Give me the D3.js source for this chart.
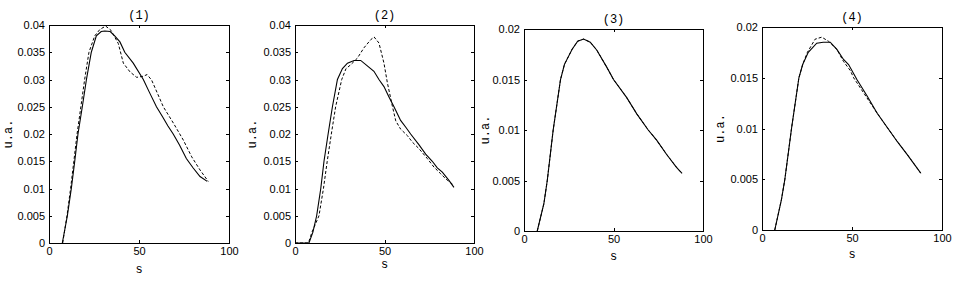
<!DOCTYPE html>
<html>
<head>
<meta charset="utf-8">
<script src="https://cdn.jsdelivr.net/npm/d3@7"></script>
<style>
  html, body { margin: 0; padding: 0; background: #fff; }
  svg text { fill: #000; }
  .tick text { font-family: "Liberation Sans", Arial, sans-serif; font-size: 11px; }
  .lbl { font-family: "Liberation Mono", "DejaVu Sans Mono", monospace; font-size: 12px; }
</style>
</head>
<body>
<svg id="chart" width="959" height="283"></svg>
<script>
// ---- données ----
const titles = ["(1)", "(2)", "(3)", "(4)"];
const xLabel = "s";
const yLabel = "u.a.";
const xTicks = [0, 50, 100];
const yTicksBig = [0, 0.005, 0.01, 0.015, 0.02, 0.025, 0.03, 0.035, 0.04];
const yTicksSmall = [0, 0.005, 0.01, 0.015, 0.02];

// panneau (1)
const p1SolidS = [7.4, 10.2, 12.4, 14.3, 16.1, 18.5, 20.8, 23.5, 26.3, 29, 31, 34, 36.5, 39.4, 42.1, 46.8, 52.4, 56, 59.7, 63, 66, 69, 72.5, 76.3, 80, 83.9, 87.9];
const p1SolidV = [0, .005, .01, .015, .02, .025, .03, .035, .038, .0388, .0389, .0388, .038, .0369, .035, .033, .03, .0275, .025, .0232, .0215, .02, .018, .0155, .0138, .0122, .0113];
const p1DashS = [7.6, 10, 12, 13.8, 15.6, 17.7, 19.8, 22.2, 25.4, 28.3, 31.5, 34.5, 36.5, 38.5, 41.3, 45, 48.7, 52.4, 54.5, 57, 59.4, 63.5, 69.1, 74.6, 79.3, 83.9, 88.5];
const p1DashV = [0, .005, .01, .015, .02, .025, .03, .035, .038, .0392, .0398, .039, .0378, .0366, .033, .0314, .0304, .0306, .0309, .0299, .0281, .025, .022, .0189, .0158, .0134, .0113];

// panneau (2)
const p2SolidS = [0, 7.8, 10, 12.1, 14.4, 16.2, 18.5, 20.9, 23.7, 26.5, 29.3, 33, 36.7, 40.4, 44.1, 46.9, 49.7, 52.5, 55.3, 59, 62, 64.6, 69.3, 73, 76.7, 79.5, 82.3, 86, 88.8];
const p2SolidV = [0, 0, .002, .005, .01, .015, .02, .025, .03, .032, .033, .0335, .0335, .0325, .0315, .03, .0287, .0268, .025, .0225, .0212, .02, .018, .0163, .015, .0138, .013, .0115, .0102];
const p2DashS = [0, 7.5, 9.5, 13.4, 15.9, 18, 20.3, 22.7, 26.1, 28.5, 31.1, 34.8, 38.5, 42.3, 44.2, 46.9, 49.7, 51.6, 54.4, 56.3, 59, 62.8, 65.6, 69.3, 73.9, 77.7, 81.4, 85.1, 88.8];
const p2DashV = [0, 0, .002, .005, .01, .015, .02, .025, .03, .032, .0327, .0339, .0358, .0373, .0378, .0367, .033, .0294, .0251, .0224, .0209, .0197, .0185, .0173, .0155, .0139, .0127, .0115, .0106];

// panneau (3) : les deux courbes se confondent
const p3SolidS = [7.4, 11.1, 13, 16.3, 20.4, 22.6, 26.9, 30, 33.3, 37, 40.7, 46.3, 50, 57.4, 63, 69.4, 74.1, 79.6, 85.2, 88.3];
const p3SolidV = [0, .0027, .005, .01, .015, .0165, .018, .0188, .019, .0187, .0179, .0162, .015, .0132, .0116, .01, .009, .0076, .0063, .0057];
const p3DashS = p3SolidS;
const p3DashV = p3SolidV;

// panneau (4)
const p4SolidS = [7.1, 10.8, 12.7, 16.4, 20.5, 22.6, 25.7, 30.4, 34, 37.9, 41.6, 45.3, 48.1, 52.8, 58.4, 64, 69.6, 75.2, 80.8, 88.2];
const p4SolidV = [0, .003, .005, .01, .015, .0163, .0175, .0184, .0185, .0185, .0178, .0168, .0163, .0148, .0132, .0115, .0101, .0087, .0074, .0056];
const p4DashS = [7.1, 10.8, 12.7, 16.4, 20.5, 22.6, 25.2, 29.5, 33.2, 36.9, 41.6, 45.3, 49.1, 50.9, 56.5, 64, 69.6, 75.2, 80.8, 88.2];
const p4DashV = [0, .003, .005, .01, .015, .0163, .0175, .0188, .019, .0186, .0178, .0166, .0157, .015, .0135, .0115, .0101, .0087, .0074, .0056];

const solids = [[p1SolidS, p1SolidV], [p2SolidS, p2SolidV], [p3SolidS, p3SolidV], [p4SolidS, p4SolidV]];
const dashes = [[p1DashS, p1DashV], [p2DashS, p2DashV], [p3DashS, p3DashV], [p4DashS, p4DashV]];
const yMax = [0.04, 0.04, 0.02, 0.02];
const yTicksAll = [yTicksBig, yTicksBig, yTicksSmall, yTicksSmall];

// ---- mise en page (boîtes des axes, en px) ----
const boxes = [
  { l: 49, r: 229, t: 25, b: 243, sY: 273, uaX: 8 },
  { l: 295, r: 474, t: 25, b: 243, sY: 268, uaX: 252 },
  { l: 524, r: 703, t: 29, b: 231, sY: 260, uaX: 485 },
  { l: 762, r: 942, t: 27, b: 230, sY: 258, uaX: 720 }
];

const svg = d3.select("#chart");
const tickLen = 3;

boxes.forEach((bx, i) => {
  const x = d3.scaleLinear().domain([0, 100]).range([bx.l, bx.r]);
  const y = d3.scaleLinear().domain([0, yMax[i]]).range([bx.b, bx.t]);
  const g = svg.append("g");

  // axes avec graduations intérieures (style MATLAB)
  g.append("g").attr("transform", `translate(0,${bx.b})`)
    .call(d3.axisBottom(x).tickValues(xTicks).tickSizeInner(-tickLen).tickSizeOuter(0).tickPadding(4).tickFormat(d3.format("d")));
  g.append("g").attr("transform", `translate(0,${bx.t})`)
    .call(d3.axisTop(x).tickValues(xTicks).tickSizeInner(-tickLen).tickSizeOuter(0).tickFormat(""));
  g.append("g").attr("transform", `translate(${bx.l},0)`)
    .call(d3.axisLeft(y).tickValues(yTicksAll[i]).tickSizeInner(-tickLen).tickSizeOuter(0).tickPadding(4).tickFormat(d => d === 0 ? "0" : String(+d.toFixed(3))));
  g.append("g").attr("transform", `translate(${bx.r},0)`)
    .call(d3.axisRight(y).tickValues(yTicksAll[i]).tickSizeInner(-tickLen).tickSizeOuter(0).tickFormat(""));

  g.selectAll(".domain").attr("stroke", "#000").attr("stroke-width", 1.2).attr("shape-rendering", "crispEdges");
  g.selectAll(".tick line").attr("stroke", "#000").attr("shape-rendering", "crispEdges");

  const line = d3.line().x(d => x(d[0])).y(d => y(d[1]));

  const dash = dashes[i][0].map((s, k) => [s, dashes[i][1][k]]);
  g.append("path").datum(dash)
    .attr("d", line).attr("fill", "none").attr("stroke", "#000")
    .attr("stroke-width", 1).attr("stroke-dasharray", "3,2");

  const sol = solids[i][0].map((s, k) => [s, solids[i][1][k]]);
  g.append("path").datum(sol)
    .attr("d", line).attr("fill", "none").attr("stroke", "#000").attr("stroke-width", 1.1);

  // titre + étiquettes
  g.append("text").attr("class", "lbl")
    .attr("x", (bx.l + bx.r) / 2).attr("y", bx.t - 6)
    .attr("text-anchor", "middle").text(titles[i]);
  g.append("text").attr("class", "lbl")
    .attr("x", (bx.l + bx.r) / 2).attr("y", bx.sY)
    .attr("text-anchor", "middle").text(xLabel);
  g.append("text").attr("class", "lbl")
    .attr("transform", `translate(${bx.uaX + 4},${(bx.t + bx.b) / 2}) rotate(-90)`)
    .attr("text-anchor", "middle").text(yLabel);
});
</script>
</body>
</html>
